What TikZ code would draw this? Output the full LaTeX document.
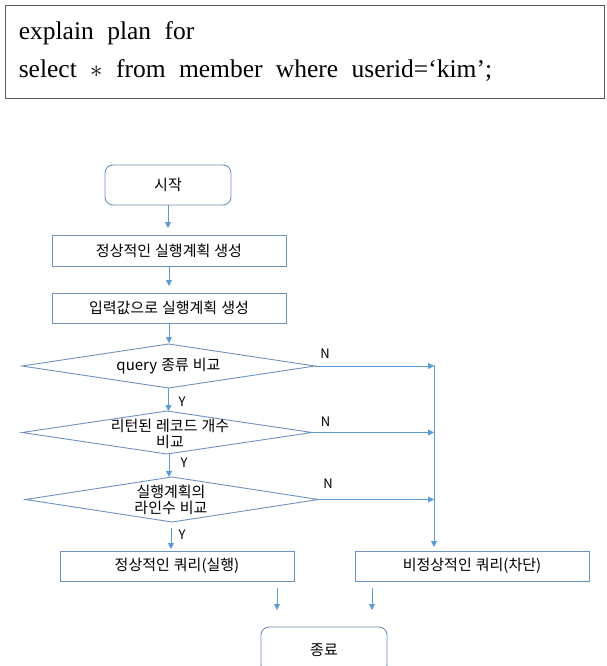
\documentclass[tikz,border=0pt]{standalone}
\usepackage{fontspec}
\setmainfont{Liberation Serif}
\newfontfamily\krfont[WordSpace=1.2]{Noto Sans CJK KR}
\newfontfamily\codefont[WordSpace=2.1]{Liberation Serif}
\usetikzlibrary{arrows.meta,shapes.geometric,calc}
\definecolor{bordc}{RGB}{112,146,190}
\definecolor{arrc}{RGB}{91,155,213}
\definecolor{codec}{RGB}{90,90,90}
\begin{document}
\begin{tikzpicture}[x=1pt,y=-1pt,
  boxst/.style={draw=bordc, line width=0.9pt, inner sep=0pt, outer sep=0pt, font=\krfont\fontsize{15}{16}\selectfont},
  rbox/.style={boxst, rounded corners=8pt},
  dia/.style={diamond, draw=bordc, line width=0.9pt, inner sep=0pt, outer sep=0pt},
  txt/.style={font=\krfont\fontsize{15}{16}\selectfont, align=center, inner sep=0pt},
  yn/.style={font=\krfont\fontsize{13}{15}\selectfont, inner sep=0pt},
  arr/.style={draw=arrc, line width=0.9pt, -{Triangle[length=6pt,width=6pt]}},
  codetxt/.style={font=\codefont\fontsize{25.5}{30}\selectfont, inner sep=0pt, anchor=base west}
]
\useasboundingbox (0,0) rectangle (606,666);
\begin{scope}
\clip (0,0) rectangle (606,666);
% code box
\node[draw=codec, line width=0.9pt, minimum width=599pt, minimum height=93pt, anchor=north west, inner sep=0pt] (code) at (5,5) {};
\node[codetxt] (l1) at (18.6,40) {explain plan for};
\node[codetxt] (l2) at (18.6,78) {select $\ast$ from member where userid=‘kim’;};

% flow nodes
\node[rbox, minimum width=126pt, minimum height=40pt] (s) at (168,185) {시작};
\node[boxst, minimum width=234pt, minimum height=31pt] (b1) at (169,250.5) {정상적인 실행계획 생성};
\node[boxst, minimum width=234pt, minimum height=30pt] (b2) at (169,308) {입력값으로 실행계획 생성};
\node[dia, minimum width=293pt, minimum height=44pt] (d1) at (168.5,366) {};
\node[txt] (t1) at (d1) {query 종류 비교};
\node[dia, minimum width=290pt, minimum height=43pt] (d2) at (167,432.5) {};
\node[txt] (t2) at (170,434) {리턴된 레코드 개수\\비교};
\node[dia, minimum width=293pt, minimum height=45pt] (d3) at (172,499.5) {};
\node[txt] (t3) at (171,500) {실행계획의\\라인수 비교};
\node[boxst, minimum width=234pt, minimum height=30pt] (ok) at (177,566) {정상적인 쿼리(실행)};
\node[boxst, minimum width=234pt, minimum height=30pt] (bad) at (472,566) {비정상적인 쿼리(차단)};
\node[rbox, minimum width=126pt, minimum height=46pt] (end) at (324,650) {종료};

% labels
\node[yn] (n1) at (325,354) {N};
\node[yn] (n2) at (325.5,421.5) {N};
\node[yn] (n3) at (328,484) {N};
\node[yn] (y1) at (182,402) {Y};
\node[yn] (y2) at (184,463) {Y};
\node[yn] (y3) at (182,535) {Y};

% connectors
\draw[arr, shorten >=7pt] (s.south) -- (s.south |- b1.north);
\draw[arr, shorten >=7pt] (b1.south) -- (b1.south |- b2.north);
\draw[arr, shorten >=1pt] (b2.south) -- (b2.south |- d1.north);
\draw[arr] (d1.south) -- (d1.south |- d2.north);
\draw[arr] ($(d2.south)+(2,0)$) -- ($(d2.south |- d3.north)+(2,0)$);
\coordinate (vx) at (434,365);
\draw[arr] (d1.east) -- (d1.east -| vx);
\draw[arr] (d2.east) -- (d2.east -| vx);
\draw[arr] (d3.east) -- (d3.east -| vx);
\draw[arr, shorten >=4pt] (vx) -- (vx |- bad.north);
\coordinate (d3y) at (171,528);
\draw[arr, shorten >=2pt] (d3y) -- (d3y |- ok.north);
\coordinate (la1) at (277,588);
\coordinate (la2) at (277,610);
\coordinate (lb1) at (372,588);
\coordinate (lb2) at (372,610);
\draw[arr] (la1) -- (la2);
\draw[arr] (lb1) -- (lb2);
\end{scope}
\end{tikzpicture}
\end{document}
